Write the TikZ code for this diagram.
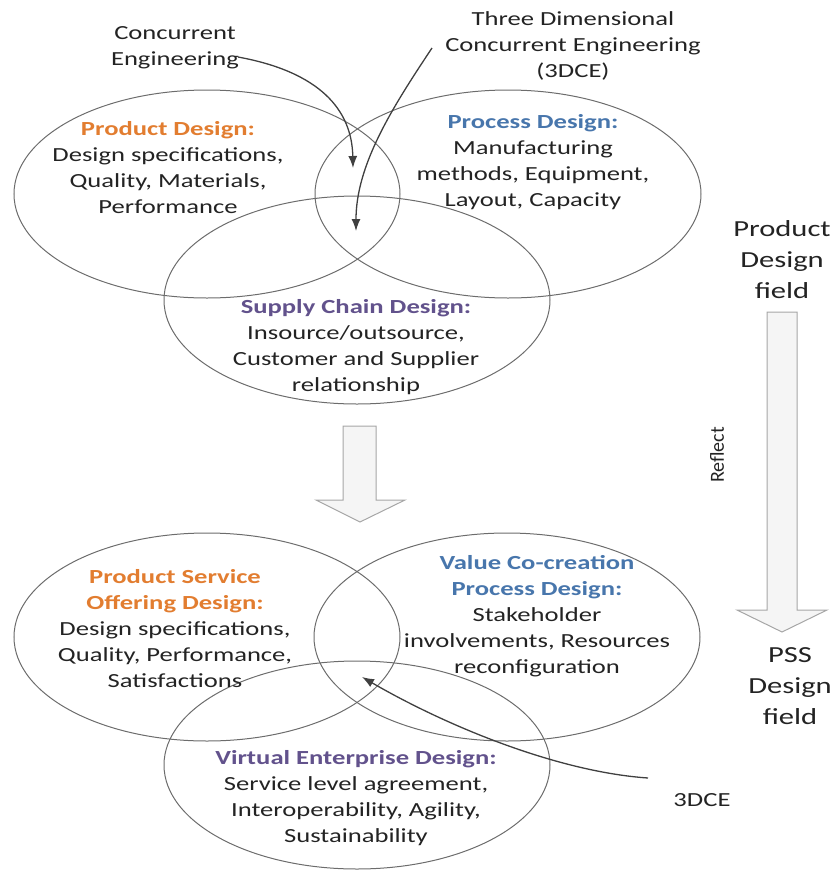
\documentclass[tikz,border=0pt]{standalone}
\usepackage{fontspec}
\setmainfont{Carlito}
\usepackage{tikz}
\usetikzlibrary{arrows.meta, shapes.geometric}

\definecolor{pdorange}{RGB}{226,125,48}
\definecolor{pdblue}{RGB}{72,118,172}
\definecolor{pdpurple}{RGB}{98,82,140}
\definecolor{txtgray}{RGB}{35,35,35}

\begin{document}
\begin{tikzpicture}[x=1pt, y=-1pt,
    field/.style={ellipse, draw=gray!85!black, line width=1pt, minimum width=386pt, minimum height=208pt, inner sep=0pt},
    desc/.style={align=center, inner sep=0pt, text=txtgray, xscale=1.33, font=\fontsize{20}{26}\selectfont},
    side/.style={align=center, inner sep=0pt, text=txtgray, xscale=1.33, font=\fontsize{23}{31}\selectfont},
    vlabel/.style={inner sep=0pt, text=txtgray, rotate=90, font=\fontsize{20}{26}\selectfont},
    curved/.style={-{Latex[length=12pt, width=9pt]}, line width=1.3pt, draw=black!75},
    bigarrow/.style={draw=gray!70, fill=gray!8, line width=1pt}
]
\useasboundingbox (0,0) rectangle (835,871);

% Product design field
\node[field] (prod) at (207,194) {};
\node[field] (proc) at (508,194) {};
\node[field] (supp) at (357,300) {};

\node[desc] (prodtxt) at (168,168) {\textbf{\textcolor{pdorange}{Product Design:}}\\Design specifications,\\Quality, Materials,\\Performance};
\node[desc] (proctxt) at (533,162) {\textbf{\textcolor{pdblue}{Process Design:}}\\Manufacturing\\methods, Equipment,\\Layout, Capacity};
\node[desc] (supptxt) at (356,347) {\textbf{\textcolor{pdpurple}{Supply Chain Design:}}\\Insource/outsource,\\Customer and Supplier\\relationship};

\node[desc] (ce) at (175,48) {Concurrent\\Engineering};
\node[desc] (tdce) at (573,46) {Three Dimensional\\Concurrent Engineering\\(3DCE)};

\coordinate (ceend) at (353,168);
\coordinate (tdend) at (356,231);
\draw[curved] (238,57) .. controls (320,72) and (352,110) .. (ceend);
\draw[curved] (432,48) .. controls (392,108) and (356,165) .. (tdend);

% Transfer arrow
\draw[bigarrow] (343,426) -- (376,426) -- (376,500) -- (405,500) -- (360,522) -- (316,500) -- (343,500) -- cycle;

% PSS design field
\node[field] (pso) at (207,637) {};
\node[field] (vcc) at (507,637) {};
\node[field] (ved) at (357,765) {};

\node[desc] (psotxt) at (175,629) {\textbf{\textcolor{pdorange}{Product Service}}\\\textbf{\textcolor{pdorange}{Offering Design:}}\\Design specifications,\\Quality, Performance,\\Satisfactions};
\node[desc] (vcctxt) at (537,616) {\textbf{\textcolor{pdblue}{Value Co-creation}}\\\textbf{\textcolor{pdblue}{Process Design:}}\\Stakeholder\\involvements, Resources\\reconfiguration};
\node[desc] (vedtxt) at (356,798) {\textbf{\textcolor{pdpurple}{Virtual Enterprise Design:}}\\Service level agreement,\\Interoperability, Agility,\\Sustainability};

\node[desc] (dce) at (702,800) {3DCE};
\coordinate (dcestart) at (648,778);
\coordinate (dceend) at (362,677);
\draw[curved] (dcestart) .. controls (560,772) and (450,728) .. (dceend);

% Reflect arrow
\node[side] (pdfield) at (782,260) {Product\\Design\\field};
\node[side] (pssfield) at (790,686) {PSS\\Design\\field};
\draw[bigarrow] (767,312) -- (797,312) -- (797,610) -- (827,610) -- (782,632) -- (737,610) -- (767,610) -- cycle;
\node[vlabel] (refl) at (717,455) {Reflect};

\end{tikzpicture}
\end{document}
